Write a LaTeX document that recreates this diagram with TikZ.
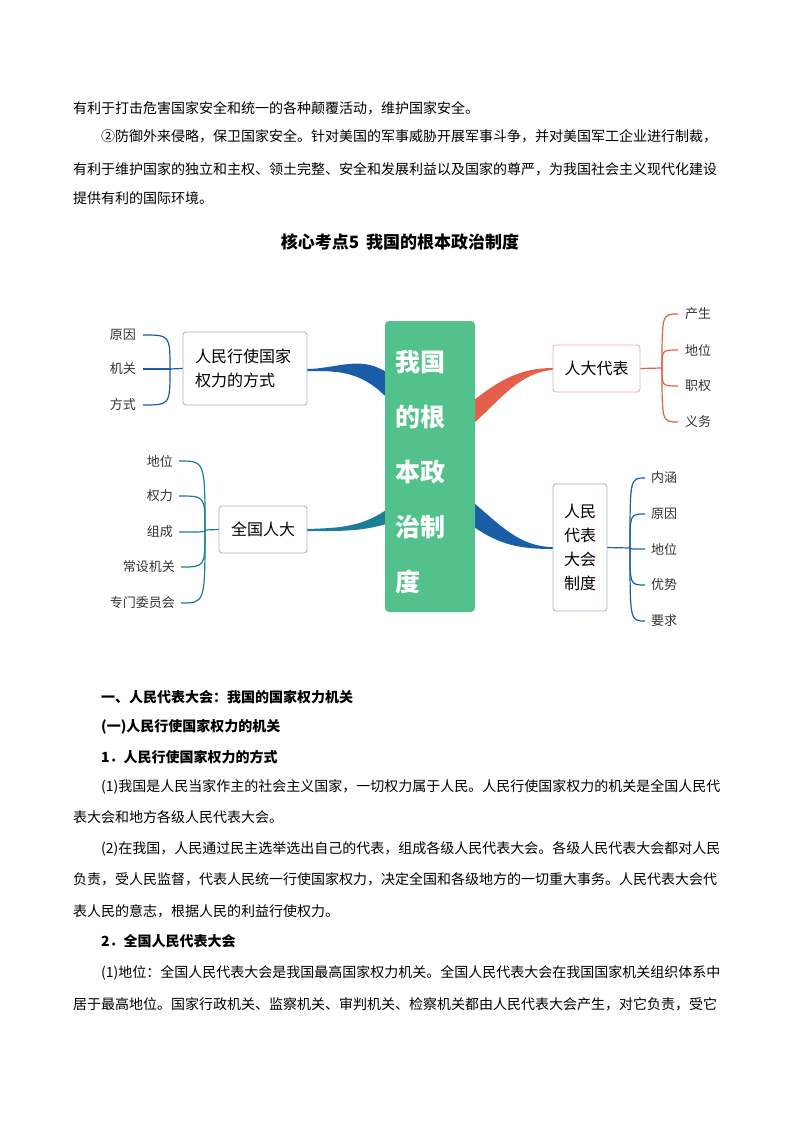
\documentclass[tikz,border=0pt]{standalone}
\usepackage{fontspec}
\setmainfont{Noto Sans CJK SC}
\begin{document}
\begin{tikzpicture}[x=1pt,y=-1pt,
 body/.style={anchor=west,inner sep=0,font=\fontsize{14}{14}\selectfont},
 head/.style={anchor=west,inner sep=0,font=\fontsize{14}{14}\selectfont\bfseries},
 leaf/.style={inner sep=1pt,font=\fontsize{13}{13}\selectfont,text=black!80},
 topic/.style={draw=#1,rounded corners=3pt,line width=0.8pt,fill=white,font=\fontsize{16}{24}\selectfont,align=left,inner sep=0},
 br/.style={draw=#1,line width=1.2pt}]
\definecolor{cgreen}{HTML}{52C18B}
\definecolor{cblue}{HTML}{1B5EA8}
\definecolor{cteal}{HTML}{1D7C98}
\definecolor{cred}{HTML}{E5604B}
\definecolor{bgray}{HTML}{9DB6CC}
\definecolor{bred}{HTML}{E9ADA2}
\useasboundingbox[fill=white] (0,0) rectangle (800,1132);
% top text
\node[body] (t1) at (73,108) {有利于打击危害国家安全和统一的各种颠覆活动，维护国家安全。};
\node[body] (t2) at (101,136) {②防御外来侵略，保卫国家安全。针对美国的军事威胁开展军事斗争，并对美国军工企业进行制裁，};
\node[body] (t3) at (73,169) {有利于维护国家的独立和主权、领土完整、安全和发展利益以及国家的尊严，为我国社会主义现代化建设};
\node[body] (t4) at (73,198) {提供有利的国际环境。};
\node[inner sep=0,font=\fontsize{17}{17}\selectfont\bfseries] (title) at (400,242) {核心考点5\, 我国的根本政治制度};
% connectors (tapered)
\fill[cblue] (386,372) .. controls (360,355) and (335,369) .. (307,369) -- (307,371) .. controls (335,371) and (360,370) .. (386,397) -- cycle;
\fill[cred] (474,400) .. controls (500,380) and (520,368) .. (553,368) -- (553,370) .. controls (520,372) and (500,400) .. (474,423) -- cycle;
\fill[cteal] (386,510) .. controls (360,528) and (335,528) .. (307,529) -- (307,531) .. controls (335,531) and (360,532) .. (386,524) -- cycle;
\fill[cblue] (474,503) .. controls (500,525) and (520,547) .. (553,547) -- (553,549) .. controls (520,549) and (500,545) .. (474,527) -- cycle;
% center
\node[fill=cgreen,rounded corners=4pt,minimum width=90pt,minimum height=291pt,inner sep=0] (c) at (430,466.5) {};
\node[anchor=north west,text=white,font=\fontsize{25}{55}\selectfont\bfseries,align=left,inner sep=0] (ct) at (395,350) {我国\\的根\\本政\\治制\\度};
% topic boxes
\node[topic=bgray,minimum width=124pt,minimum height=73pt,text width=100pt] (b1) at (245,368.5) {人民行使国家\\权力的方式};
\node[topic=bgray,minimum width=88pt,minimum height=47pt,align=center] (b2) at (263,529.5) {全国人大};
\node[topic=bred,minimum width=87pt,minimum height=47pt,align=center] (b3) at (596.5,368.5) {人大代表};
\node[topic=bgray,minimum width=54pt,minimum height=127pt,align=center] (b4) at (580,547.5) {人民\\代表\\大会\\制度};
% leaves left-top
\node[leaf,anchor=east] (l1) at (137,335) {原因};
\node[leaf,anchor=east] (l2) at (137,369) {机关};
\node[leaf,anchor=east] (l3) at (137,405) {方式};
\coordinate (j1) at (170,369);
\draw[br=cblue] (b1.west) -- (j1);
\foreach \n in {l1,l2,l3} \draw[br=cblue] (j1) .. controls (j1 |- \n.east) and (j1 |- \n.east) .. ([xshift=6pt]\n.east);
% leaves left-bottom
\node[leaf,anchor=east] (m1) at (174,461) {地位};
\node[leaf,anchor=east] (m2) at (174,496) {权力};
\node[leaf,anchor=east] (m3) at (174,532) {组成};
\node[leaf,anchor=east] (m4) at (176,567) {常设机关};
\node[leaf,anchor=east] (m5) at (176,603) {专门委员会};
\coordinate (j2) at (205,530);
\draw[br=cteal] (b2.west) -- (j2);
\foreach \n in {m1,m2,m3,m4,m5} \draw[br=cteal] (j2) .. controls (j2 |- \n.east) and (j2 |- \n.east) .. ([xshift=5pt]\n.east);
% leaves right-top
\node[leaf,anchor=west] (r1) at (684,314) {产生};
\node[leaf,anchor=west] (r2) at (684,350) {地位};
\node[leaf,anchor=west] (r3) at (684,386) {职权};
\node[leaf,anchor=west] (r4) at (684,422) {义务};
\coordinate (j3) at (662,368);
\draw[br=cred] (b3.east) -- (j3);
\foreach \n in {r1,r2,r3,r4} \draw[br=cred] (j3) .. controls (j3 |- \n.west) and (j3 |- \n.west) .. ([xshift=-6pt]\n.west);
% leaves right-bottom
\node[leaf,anchor=west] (s1) at (650,478) {内涵};
\node[leaf,anchor=west] (s2) at (650,514) {原因};
\node[leaf,anchor=west] (s3) at (650,549) {地位};
\node[leaf,anchor=west] (s4) at (650,585) {优势};
\node[leaf,anchor=west] (s5) at (650,621) {要求};
\coordinate (j4) at (630,548);
\draw[br=cblue] (b4.east) -- (j4);
\foreach \n in {s1,s2,s3,s4,s5} \draw[br=cblue] (j4) .. controls (j4 |- \n.west) and (j4 |- \n.west) .. ([xshift=-5pt]\n.west);
% lower text
\node[head] (h1) at (101,697) {一、人民代表大会：我国的国家权力机关};
\node[head] (h2) at (101,727) {(一)人民行使国家权力的机关};
\node[head] (h3) at (101,757) {1．人民行使国家权力的方式};
\node[body] (p1) at (101,787) {(1)我国是人民当家作主的社会主义国家，一切权力属于人民。人民行使国家权力的机关是全国人民代};
\node[body] (p2) at (73,817) {表大会和地方各级人民代表大会。};
\node[body] (p3) at (101,849) {(2)在我国，人民通过民主选举选出自己的代表，组成各级人民代表大会。各级人民代表大会都对人民};
\node[body] (p4) at (73,879) {负责，受人民监督，代表人民统一行使国家权力，决定全国和各级地方的一切重大事务。人民代表大会代};
\node[body] (p5) at (73,911) {表人民的意志，根据人民的利益行使权力。};
\node[head] (h4) at (101,941) {2．全国人民代表大会};
\node[body] (p6) at (101,973) {(1)地位：全国人民代表大会是我国最高国家权力机关。全国人民代表大会在我国国家机关组织体系中};
\node[body] (p7) at (73,1004) {居于最高地位。国家行政机关、监察机关、审判机关、检察机关都由人民代表大会产生，对它负责，受它};
\end{tikzpicture}
\end{document}
